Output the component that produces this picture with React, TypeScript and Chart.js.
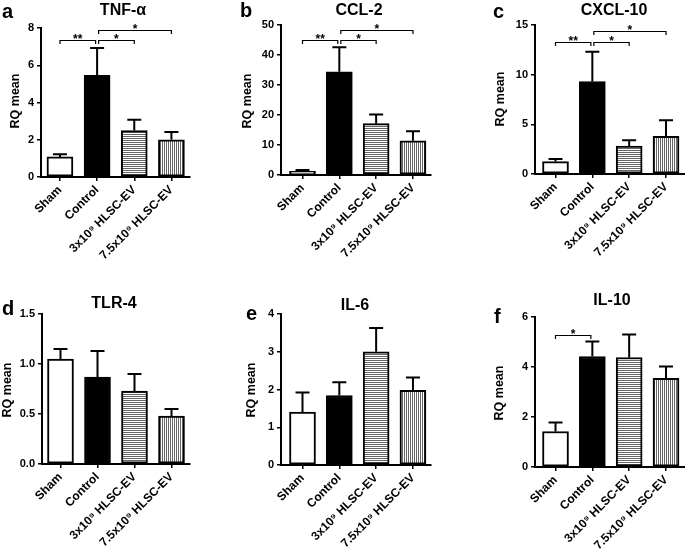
import React, { useEffect, useRef } from "react";
import { Chart, registerables } from "chart.js";

Chart.register(...registerables);

const FONT = '"Liberation Sans", Arial, sans-serif';

const categories = ["Sham", "Control", "3x10⁹ HLSC-EV", "7.5x10⁹ HLSC-EV"];

const tnfMean = [1.08, 5.46, 2.49, 2.0];
const tnfErr = [1.22, 6.92, 3.07, 2.42];
const ccl2Mean = [1.2, 34.4, 17.1, 11.4];
const ccl2Err = [1.7, 42.6, 20.2, 14.6];
const cxcl10Mean = [1.25, 9.3, 2.8, 3.8];
const cxcl10Err = [1.52, 12.3, 3.4, 5.4];
const tlr4Mean = [1.05, 0.87, 0.73, 0.48];
const tlr4Err = [1.15, 1.13, 0.9, 0.55];
const il6Mean = [1.4, 1.84, 3.0, 1.98];
const il6Err = [1.92, 2.19, 3.63, 2.32];
const il10Mean = [1.42, 4.42, 4.38, 3.55];
const il10Err = [1.78, 5.02, 5.3, 4.02];

type Sig = [number, number, number, string];
const tnfSig: Sig[] = [[0, 1, 7.33, "**"], [1, 2, 7.33, "*"], [1, 3, 7.87, "*"]];
const ccl2Sig: Sig[] = [[0, 1, 44.9, "**"], [1, 2, 44.9, "*"], [1, 3, 48.4, "*"]];
const cxcl10Sig: Sig[] = [[0, 1, 13.3, "**"], [1, 2, 13.3, "*"], [1, 3, 14.4, "*"]];
const il10Sig: Sig[] = [[0, 1, 5.3, "*"]];

const yTitle = "RQ mean";

type Panel = {
  letter: string; title: string; mean: number[]; err: number[]; sig: Sig[];
  yMax: number; yStep: number; dec: number;
  box: [number, number, number, number];
  area: [number, number, number, number];
  xRange: [number, number];
  titleXY: [number, number]; letterXY: [number, number]; yTitleXY: [number, number];
};

const panels: Panel[] = [
  { letter: "a", title: "TNF-α", mean: tnfMean, err: tnfErr, sig: tnfSig, yMax: 8, yStep: 2, dec: 0,
    box: [0, 0, 228, 270], area: [41, 28, 190, 177], xRange: [-0.51, 3.5],
    titleXY: [123, 15], letterXY: [2, 18], yTitleXY: [16, 101] },
  { letter: "b", title: "CCL-2", mean: ccl2Mean, err: ccl2Err, sig: ccl2Sig, yMax: 50, yStep: 10, dec: 0,
    box: [228, 0, 228, 270], area: [281, 25, 431, 175], xRange: [-0.584, 3.49],
    titleXY: [359, 15], letterXY: [240, 17], yTitleXY: [248, 101] },
  { letter: "c", title: "CXCL-10", mean: cxcl10Mean, err: cxcl10Err, sig: cxcl10Sig, yMax: 15, yStep: 5, dec: 0,
    box: [456, 0, 229, 270], area: [535, 25, 685, 174], xRange: [-0.557, 3.516],
    titleXY: [614, 15], letterXY: [493, 18], yTitleXY: [501, 99] },
  { letter: "d", title: "TLR-4", mean: tlr4Mean, err: tlr4Err, sig: [], yMax: 1.5, yStep: 0.5, dec: 1,
    box: [0, 270, 228, 280], area: [42, 314, 190, 464], xRange: [-0.5, 3.5],
    titleXY: [114, 308], letterXY: [2, 315], yTitleXY: [8, 390] },
  { letter: "e", title: "IL-6", mean: il6Mean, err: il6Err, sig: [], yMax: 4, yStep: 1, dec: 0,
    box: [228, 270, 228, 280], area: [281, 314, 431, 465], xRange: [-0.584, 3.49],
    titleXY: [355, 310], letterXY: [246, 320], yTitleXY: [252, 390] },
  { letter: "f", title: "IL-10", mean: il10Mean, err: il10Err, sig: il10Sig, yMax: 6, yStep: 2, dec: 0,
    box: [456, 270, 229, 280], area: [535, 317, 685, 467], xRange: [-0.557, 3.516],
    titleXY: [612, 305], letterXY: [494, 323], yTitleXY: [500, 393] },
];

function makeStripe(horizontal: boolean): CanvasPattern | string {
  const c = document.createElement("canvas");
  c.width = 2; c.height = 2;
  const g = c.getContext("2d");
  if (!g) return "#bbb";
  g.fillStyle = "#fff"; g.fillRect(0, 0, 2, 2);
  g.fillStyle = "#666";
  if (horizontal) g.fillRect(0, 0, 2, 1); else g.fillRect(0, 0, 1, 2);
  return g.createPattern(c, "repeat") || "#bbb";
}

function PanelChart({ p }: { p: Panel }) {
  const ref = useRef<HTMLCanvasElement>(null);
  const [L, T, W, H] = p.box;
  useEffect(() => {
    if (!ref.current) return;
    const [al, at, ar, ab] = p.area;
    const yTickFont = { family: FONT, size: 11, weight: "bold" as const };
    const xTickFont = { family: FONT, size: 12, weight: "bold" as const };
    const axisGrid = { display: true, drawOnChartArea: false, drawTicks: true, tickLength: 4, color: "#000", lineWidth: 1.5, offset: false };
    const axisBorder = { display: true, color: "#000", width: 2 };

    const overlay = {
      id: "overlay",
      afterDatasetsDraw(chart: any) {
        const ctx = chart.ctx as CanvasRenderingContext2D;
        const ys = chart.scales.y; const xs = chart.scales.x;
        const meta = chart.getDatasetMeta(0);
        ctx.save();
        ctx.strokeStyle = "#000";
        ctx.lineWidth = 2;
        meta.data.forEach((bar: any, i: number) => {
          const top = ys.getPixelForValue(p.err[i]);
          ctx.beginPath();
          ctx.moveTo(bar.x, bar.y);
          ctx.lineTo(bar.x, top);
          ctx.moveTo(bar.x - 7, top);
          ctx.lineTo(bar.x + 7, top);
          ctx.stroke();
        });
        ctx.lineWidth = 1.2;
        ctx.fillStyle = "#000";
        ctx.font = `bold 12px ${FONT}`;
        ctx.textAlign = "center";
        ctx.textBaseline = "alphabetic";
        p.sig.forEach(([i, j, v, s]) => {
          const x1 = xs.getPixelForValue(i) + (i === 1 ? 1.5 : 0);
          const x2 = xs.getPixelForValue(j) - (j === 1 ? 1.5 : 0);
          const y = Math.round(ys.getPixelForValue(v)) + 0.5;
          ctx.beginPath();
          ctx.moveTo(x1, y + 3.5); ctx.lineTo(x1, y); ctx.lineTo(x2, y); ctx.lineTo(x2, y + 3.5);
          ctx.stroke();
          ctx.fillText(s, (x1 + x2) / 2, y + 2);
        });
        ctx.restore();
      },
      afterDraw(chart: any) {
        const ctx = chart.ctx as CanvasRenderingContext2D;
        ctx.save();
        ctx.fillStyle = "#000";
        ctx.textBaseline = "alphabetic";
        ctx.font = `bold 20px ${FONT}`;
        ctx.textAlign = "left";
        ctx.fillText(p.letter, p.letterXY[0] - L, p.letterXY[1] - T);
        ctx.font = `bold 16px ${FONT}`;
        ctx.textAlign = "center";
        ctx.fillText(p.title, p.titleXY[0] - L, p.titleXY[1] - T);
        ctx.translate(p.yTitleXY[0] - L, p.yTitleXY[1] - T);
        ctx.rotate(-Math.PI / 2);
        ctx.font = `bold 12.5px ${FONT}`;
        ctx.textBaseline = "middle";
        ctx.fillText(yTitle, 0, 0);
        ctx.restore();
      },
    };

    const chart = new Chart(ref.current, {
      type: "bar",
      data: {
        datasets: [{
          data: p.mean.map((v, i) => ({ x: i, y: v })),
          backgroundColor: ["#fff", "#000", makeStripe(true), makeStripe(false)] as any,
          borderColor: "#000",
          borderWidth: 2,
          borderSkipped: false,
          barThickness: 26,
        }],
      },
      options: {
        responsive: false,
        animation: false,
        devicePixelRatio: 1,
        layout: { padding: { left: 0, top: at - T, right: L + W - ar, bottom: 0 } },
        plugins: { legend: { display: false }, tooltip: { enabled: false }, title: { display: false } },
        scales: {
          x: {
            type: "linear",
            min: p.xRange[0],
            max: p.xRange[1],
            offset: false,
            afterBuildTicks: (s: any) => { s.ticks = categories.map((_, i) => ({ value: i })); },
            afterFit: (s: any) => { s.height = T + H - ab; },
            ticks: {
              autoSkip: false, minRotation: 45, maxRotation: 45, padding: 2,
              color: "#000", font: xTickFont,
              callback: (v: any) => categories[Number(v)] ?? "",
            },
            grid: axisGrid,
            border: axisBorder,
          },
          y: {
            min: 0,
            max: p.yMax,
            afterFit: (s: any) => { s.width = al - L; },
            ticks: {
              stepSize: p.yStep, padding: 3, color: "#000", font: yTickFont,
              callback: (v: any) => Number(v).toFixed(p.dec),
            },
            grid: { ...axisGrid },
            border: axisBorder,
          },
        },
      } as any,
      plugins: [overlay],
    });
    return () => chart.destroy();
  }, []);
  return (
    <canvas
      ref={ref}
      width={W}
      height={H}
      style={{ position: "absolute", left: L, top: T, width: W, height: H }}
    />
  );
}

export default function App() {
  return (
    <div style={{ position: "absolute", left: 0, top: 0, width: 685, height: 550, background: "#fff", overflow: "hidden" }}>
      {panels.map((p) => <PanelChart key={p.letter} p={p} />)}
    </div>
  );
}
